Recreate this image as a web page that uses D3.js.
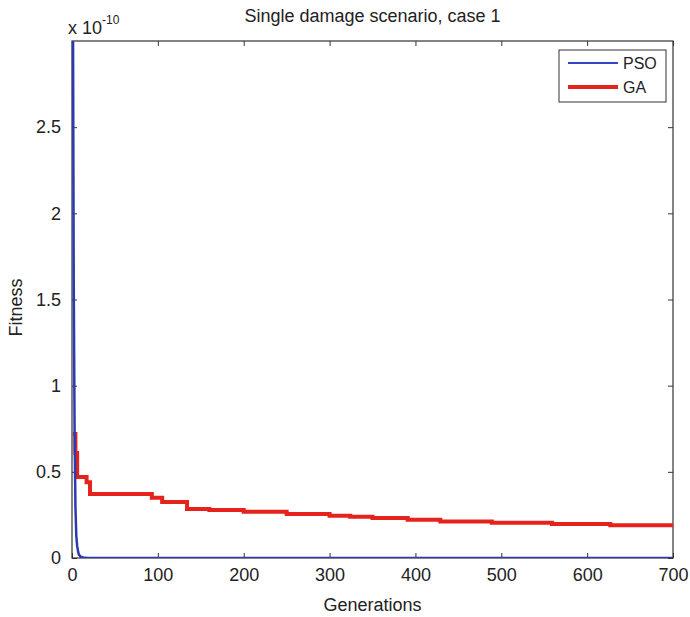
<!DOCTYPE html>
<html>
<head>
<meta charset="utf-8">
<script src="https://cdn.jsdelivr.net/npm/d3@7"></script>
<style>
  body { margin: 0; background: #fff; }
  text { font-family: "Liberation Sans", Arial, sans-serif; fill: #222; }
</style>
</head>
<body>
<script>
// values in units of 1e-10
const psoGen = [1, 2, 3, 4, 5, 6, 7, 8, 10, 13, 18, 700];
const psoFit = [3.4, 1.63, 0.75, 0.3, 0.13, 0.07, 0.04, 0.02, 0.008, 0.003, 0.0, 0.0];

const gaGen = [1, 4, 6, 17, 21, 93, 105, 134, 160, 200, 250, 300, 324, 350, 391, 429, 489, 559, 627, 700];
const gaFit = [0.72, 0.61, 0.47, 0.44, 0.372, 0.35, 0.325, 0.285, 0.278, 0.268, 0.255, 0.245, 0.24, 0.232, 0.222, 0.212, 0.204, 0.197, 0.19, 0.185];

const xTicks = [0, 100, 200, 300, 400, 500, 600, 700];
const yTicks = [0, 0.5, 1, 1.5, 2, 2.5];

const width = 690, height = 617;
const margin = { left: 72, right: 17, top: 41, bottom: 59 };
const w = width - margin.left - margin.right;
const h = height - margin.top - margin.bottom;

const svg = d3.select("body").append("svg")
  .attr("width", width)
  .attr("height", height);

const x = d3.scaleLinear().domain([0, 700]).range([0, w]);
const y = d3.scaleLinear().domain([0, 3]).range([h, 0]);

const g = svg.append("g")
  .attr("transform", "translate(" + margin.left + "," + margin.top + ")");

svg.append("defs").append("clipPath").attr("id", "clip")
  .append("rect").attr("x", -1).attr("width", w + 1).attr("height", h);

// axes: ticks pointing inward on all four sides
g.append("g")
  .attr("transform", "translate(0," + h + ")")
  .call(d3.axisBottom(x).tickValues(xTicks).tickSize(-5).tickPadding(10).tickSizeOuter(0))
  .call(a => a.selectAll("text").style("font-size", "18px"));
g.append("g")
  .call(d3.axisTop(x).tickValues(xTicks).tickSize(-5).tickFormat("").tickSizeOuter(0));
g.append("g")
  .call(d3.axisLeft(y).tickValues(yTicks).tickSize(-5).tickPadding(11).tickFormat(d3.format("")).tickSizeOuter(0))
  .call(a => a.selectAll("text").style("font-size", "18px"));
g.append("g")
  .attr("transform", "translate(" + w + ",0)")
  .call(d3.axisRight(y).tickValues(yTicks).tickSize(-5).tickFormat("").tickSizeOuter(0));

g.selectAll(".domain").remove();
g.selectAll(".tick line").attr("stroke", "#333");

g.append("rect")
  .attr("width", w).attr("height", h)
  .attr("fill", "none").attr("stroke", "#333").attr("stroke-width", 1.2);

// lines
const gaLine = d3.line()
  .x((d, i) => x(gaGen[i]))
  .y(d => y(d))
  .curve(d3.curveStepAfter);
const psoLine = d3.line()
  .x((d, i) => x(psoGen[i]))
  .y(d => y(d));

const plot = g.append("g").attr("clip-path", "url(#clip)");
plot.append("path")
  .datum(gaFit)
  .attr("d", gaLine)
  .attr("fill", "none")
  .attr("stroke", "#e3231c")
  .attr("stroke-width", 4);
plot.append("path")
  .datum(psoFit)
  .attr("d", psoLine)
  .attr("fill", "none")
  .attr("stroke", "#2b3ab0")
  .attr("stroke-width", 2.5);

// title, labels, exponent
svg.append("text")
  .attr("x", margin.left + w / 2).attr("y", 22)
  .attr("text-anchor", "middle")
  .style("font-size", "18px")
  .text("Single damage scenario, case 1");

svg.append("text")
  .attr("x", margin.left + w / 2).attr("y", 611)
  .attr("text-anchor", "middle")
  .style("font-size", "18px")
  .text("Generations");

svg.append("text")
  .attr("transform", "translate(22," + (margin.top + h / 2 + 8) + ") rotate(-90)")
  .attr("text-anchor", "middle")
  .style("font-size", "18px")
  .text("Fitness");

const expo = svg.append("text")
  .attr("x", 68).attr("y", 34)
  .style("font-size", "18px");
expo.append("tspan").text("x 10");
expo.append("tspan").attr("dy", -10).style("font-size", "12px").text("-10");

// legend
const legend = svg.append("g").attr("transform", "translate(559,50)");
legend.append("rect")
  .attr("width", 107).attr("height", 52)
  .attr("fill", "#fff").attr("stroke", "#333").attr("stroke-width", 1);
const legendItems = [
  { name: "PSO", color: "#3344c4", width: 2 },
  { name: "GA", color: "#e3231c", width: 4 }
];
legendItems.forEach((d, i) => {
  const yy = 13 + i * 24;
  legend.append("line")
    .attr("x1", 9).attr("x2", 59).attr("y1", yy).attr("y2", yy)
    .attr("stroke", d.color).attr("stroke-width", d.width);
  legend.append("text")
    .attr("x", 64).attr("y", yy + 6)
    .style("font-size", "16px")
    .text(d.name);
});
</script>
</body>
</html>
